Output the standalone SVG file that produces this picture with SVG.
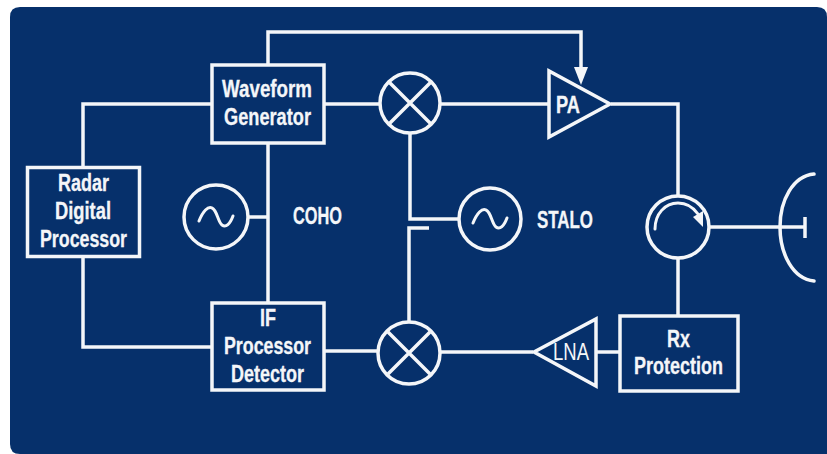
<svg xmlns="http://www.w3.org/2000/svg" width="827" height="454" viewBox="0 0 827 454">
<style>
.s{fill:none;stroke:#f4f6f9;stroke-width:3.500;stroke-linejoin:miter}
.t{fill:#f4f6f9;font-family:"Liberation Sans",Arial,sans-serif;font-weight:700;font-size:23px;stroke:#f4f6f9;stroke-width:.3}
.a{fill:#f4f6f9}
</style>
<defs>
<path id="wave" d="M-17 4C-13 -6 -8 -11 -4 -9C1 -7 2 5 6 8C10 11 14 7 17 -1" fill="none" stroke="#f4f6f9" stroke-width="3" stroke-linecap="round"/>
</defs>
<rect width="827" height="454" fill="#fff"/>
<path d="M20 7H817Q827 7 827 17V454H20Q10 454 10 444V17Q10 7 20 7Z" fill="#06306b"/>
<g id="connectors">
<path class="s" d="M268 65V32H581V70"/>
<path class="a" d="M574 67H588L581 85Z"/>
<path class="s" d="M212 104H83V167"/>
<path class="s" d="M83 257V347H212"/>
<path class="s" d="M268 143V303"/>
<path class="s" d="M248 217H268"/>
<path class="s" d="M325 104H380"/>
<path class="s" d="M441 104H548"/>
<path class="s" d="M611 104H678V196"/>
<path class="s" d="M410 134V219H459"/>
<path class="s" d="M429 228H409V322"/>
<path class="s" d="M325 351H378"/>
<path class="s" d="M440 352H533"/>
<path class="s" d="M596 352H620"/>
<path class="s" d="M678 258V316"/>
<path class="s" d="M709 227H805"/>
</g>
<g id="waveform-generator">
<rect class="s" x="212" y="65" width="112" height="78"/>
<text class="t" x="222" y="97" textLength="90" lengthAdjust="spacingAndGlyphs">Waveform</text>
<text class="t" x="224" y="125" textLength="87" lengthAdjust="spacingAndGlyphs">Generator</text>
</g>
<g id="radar-digital-processor">
<rect class="s" x="27.500" y="167.500" width="112" height="89"/>
<text class="t" x="58" y="191" textLength="51" lengthAdjust="spacingAndGlyphs">Radar</text>
<text class="t" x="55" y="219" textLength="56" lengthAdjust="spacingAndGlyphs">Digital</text>
<text class="t" x="40" y="247" textLength="87" lengthAdjust="spacingAndGlyphs">Processor</text>
</g>
<g id="if-processor-detector">
<rect class="s" x="212" y="303" width="112" height="87"/>
<text class="t" x="260" y="326" textLength="16" lengthAdjust="spacingAndGlyphs">IF</text>
<text class="t" x="224" y="354" textLength="87" lengthAdjust="spacingAndGlyphs">Processor</text>
<text class="t" x="231" y="382" textLength="73" lengthAdjust="spacingAndGlyphs">Detector</text>
</g>
<g id="rx-protection">
<rect class="s" x="620" y="316" width="118" height="75"/>
<text class="t" x="667" y="347" textLength="23" lengthAdjust="spacingAndGlyphs">Rx</text>
<text class="t" x="634" y="374" textLength="89" lengthAdjust="spacingAndGlyphs">Protection</text>
</g>
<g id="coho">
<circle class="s" cx="216" cy="217" r="32"/>
<use href="#wave" x="216" y="217"/>
<text class="t" x="293" y="224" textLength="49" lengthAdjust="spacingAndGlyphs">COHO</text>
</g>
<g id="stalo">
<circle class="s" cx="490" cy="219" r="31"/>
<use href="#wave" x="490" y="219"/>
<text class="t" x="537" y="228" textLength="56" lengthAdjust="spacingAndGlyphs">STALO</text>
</g>
<g id="mixer-tx">
<circle class="s" cx="410" cy="103" r="30"/>
<path class="s" d="M389 82L431 124M431 82L389 124"/>
</g>
<g id="mixer-rx">
<circle class="s" cx="409" cy="353" r="31"/>
<path class="s" d="M388 332L430 374M430 332L388 374"/>
</g>
<g id="pa">
<path class="s" d="M549 71V137L610 104Z"/>
<text class="t" x="556" y="113" textLength="24" lengthAdjust="spacingAndGlyphs">PA</text>
</g>
<g id="lna">
<path class="s" d="M596 319V386L534 352Z"/>
<text class="t" x="553" y="360" textLength="36" lengthAdjust="spacingAndGlyphs" style="font-weight:400;stroke-width:0">LNA</text>
</g>
<g id="circulator">
<circle class="s" cx="678" cy="227" r="31"/>
<path d="M655 229C655 214 665 203 678 203C687 203 693 207 698 214" fill="none" stroke="#f4f6f9" stroke-width="3" stroke-linecap="round"/>
<path class="a" d="M693 217L703 211L703 227Z"/>
</g>
<g id="antenna">
<path class="s" d="M805 217V238"/>
<path d="M814 174C793 176 780 200 780 227C780 254 793 279 814 281" fill="none" stroke="#f4f6f9" stroke-width="3.500" stroke-linecap="round"/>
</g>
</svg>
